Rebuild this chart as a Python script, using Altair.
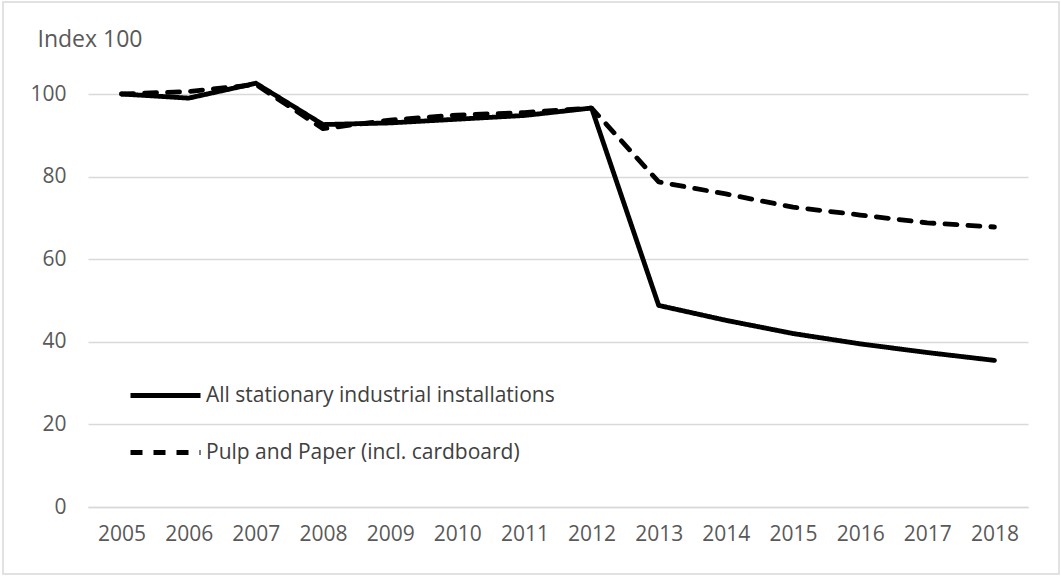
import altair as alt
import pandas as pd

years = [str(y) for y in range(2005, 2019)]
all_industrial = [100, 99.0, 102.6, 92.6, 93.0, 93.9, 94.8, 96.6, 48.8, 45.2, 42.0, 39.5, 37.4, 35.5]
pulp_paper = [100, 100.6, 102.3, 91.6, 93.7, 94.9, 95.5, 96.6, 78.7, 75.8, 72.6, 70.7, 68.8, 67.8]
series_names = ["All stationary industrial installations", "Pulp and Paper (incl. cardboard)"]

rows = []
for y, v in zip(years, all_industrial):
    rows.append({"Year": y, "Value": v, "Series": series_names[0]})
for y, v in zip(years, pulp_paper):
    rows.append({"Year": y, "Value": v, "Series": series_names[1]})
df = pd.DataFrame(rows)

FONT = "Open Sans"

lines = alt.Chart(df).mark_line(strokeWidth=4.8, strokeCap="round", strokeJoin="round", color="black", clip=False).encode(
    x=alt.X("Year:O", sort=years, scale=alt.Scale(type="point", padding=0.5),
            axis=alt.Axis(title=None, labelAngle=0, ticks=False, domain=True, domainColor="#d9d9d9",
                          domainWidth=1.5, labelPadding=16, labelFontSize=21, labelColor="#595959",
                          labelFont=FONT, grid=False)),
    y=alt.Y("Value:Q", scale=alt.Scale(domain=[0, 100], nice=False),
            axis=alt.Axis(values=[0, 20, 40, 60, 80, 100], title="Index 100", titleAngle=0,
                          titleAlign="left", titleBaseline="middle", titleX=-51, titleY=-55,
                          titleFontSize=23, titleFontWeight="normal", titleColor="#595959", titleFont=FONT,
                          ticks=False, domain=False, labelPadding=22, labelFontSize=21,
                          labelColor="#595959", labelFont=FONT, gridColor="#d9d9d9", gridWidth=1.5)),
    strokeDash=alt.StrokeDash("Series:N", sort=series_names,
                              scale=alt.Scale(domain=series_names, range=[[1, 0], [12, 11]]),
                              legend=alt.Legend(title=None, orient="none", legendX=40, legendY=264,
                                                symbolType="stroke", symbolSize=4900, symbolStrokeWidth=4.8,
                                                symbolStrokeColor="black", labelFontSize=21, labelFont=FONT,
                                                labelColor="#404040", labelOffset=3, rowPadding=9,
                                                labelLimit=600)),
)

frame = alt.Chart(pd.DataFrame({"k": [0]})).mark_rect(
    fill="transparent", stroke="#d9d9d9", strokeWidth=1.5, clip=False
).encode(
    x=alt.value(-85), x2=alt.value(971), y=alt.value(-92), y2=alt.value(480)
)

chart = alt.layer(frame, lines).properties(
    width=940, height=413,
    background="white",
    autosize=alt.AutoSizeParams(type="none"),
    padding={"left": 88, "top": 94, "right": 33, "bottom": 69},
).configure_view(stroke="transparent", strokeWidth=0)

chart.save("out.html", embed_options={"renderer": "svg", "actions": False})
